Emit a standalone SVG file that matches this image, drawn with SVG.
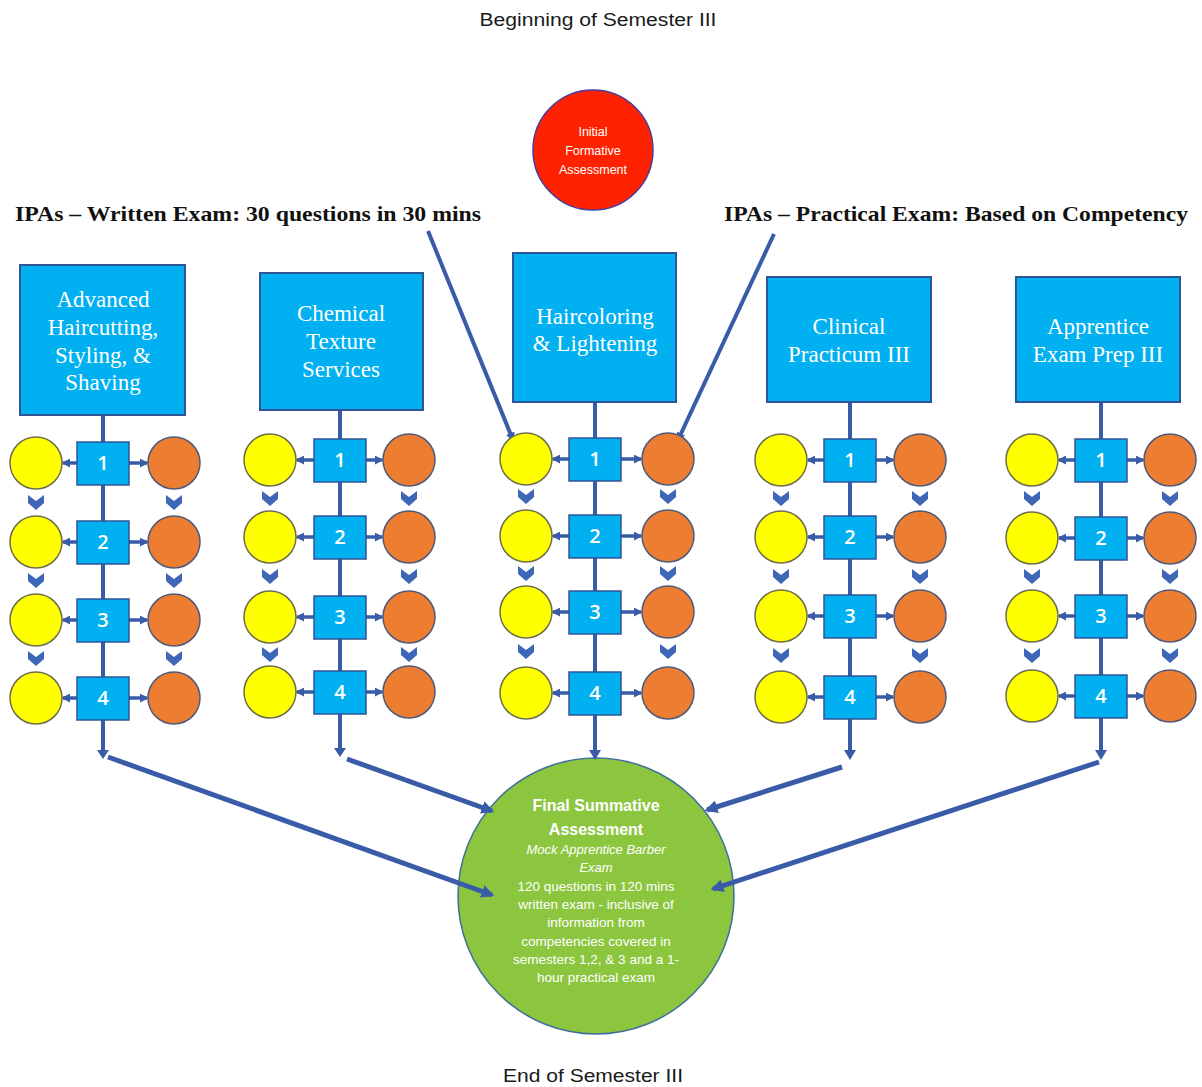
<svg xmlns="http://www.w3.org/2000/svg" xmlns:xlink="http://www.w3.org/1999/xlink" width="1202" height="1087" viewBox="0 0 1202 1087">
  <style>
    .cal { font-family: "Liberation Sans", "Open Sans", sans-serif; }
    .title { font-size: 18px; fill: #1a1a1a; }
    .hdr { font-family: "Liberation Serif", "DejaVu Serif", serif; font-weight: bold; font-size: 22px; fill: #111; }
    .box { fill: #00B0F0; stroke: #2F5597; stroke-width: 2; }
    .boxlbl { font-family: "Liberation Serif", "DejaVu Serif", serif; font-size: 23px; fill: #fff; text-anchor: middle; }
    .sq { fill: #00B0F0; stroke: #2F5597; stroke-width: 1.5; }
    .num { font-family: "Open Sans", "Liberation Sans", sans-serif; font-size: 20px; font-weight: 600; fill: #fff; text-anchor: middle; }
    .y { fill: #FFFF00; stroke: #6E6E4E; stroke-width: 1.5; }
    .o { fill: #ED7D31; stroke: #4F5A7A; stroke-width: 1.5; }
    .chev { fill: #3E67B8; }
    .stem { stroke: #3A5CA8; stroke-width: 4; fill: none; }
    .side { stroke: #3A5CA8; stroke-width: 3.5; fill: none; marker-end: url(#ah); }
    .diag { stroke: #3A5CA8; stroke-width: 5; fill: none; marker-end: url(#ahb); }
    .ptr { stroke: #3A5CA8; stroke-width: 4; fill: none; marker-end: url(#ah); }
    .wt { fill: #fff; text-anchor: middle; }
  </style>
  <defs>
    <marker id="ah" viewBox="0 0 10 10" refX="8" refY="5" markerUnits="userSpaceOnUse" markerWidth="9" markerHeight="9" orient="auto">
      <path d="M0,0 L10,5 L0,10 Z" fill="#3A5CA8"/>
    </marker>
    <marker id="ahb" viewBox="0 0 10 10" refX="8" refY="5" markerUnits="userSpaceOnUse" markerWidth="13" markerHeight="13" orient="auto">
      <path d="M0,0 L10,5 L0,10 Z" fill="#3A5CA8"/>
    </marker>
    <path id="chev" d="M-8,-8 L0,-2 L8,-8 L8,0 L0,7 L-8,0 Z"/>
  </defs>

  <rect width="1202" height="1087" fill="#ffffff"/>

  <!-- headings -->
  <text class="cal title" x="598" y="26" text-anchor="middle" textLength="237" lengthAdjust="spacingAndGlyphs">Beginning of Semester III</text>
  <text class="hdr" x="15" y="221" textLength="466" lengthAdjust="spacingAndGlyphs">IPAs – Written Exam: 30 questions in 30 mins</text>
  <text class="hdr" x="724" y="221" textLength="464" lengthAdjust="spacingAndGlyphs">IPAs – Practical Exam: Based on Competency</text>
  <text class="cal title" x="593" y="1082" text-anchor="middle" textLength="180" lengthAdjust="spacingAndGlyphs">End of Semester III</text>

  <!-- final summative assessment (drawn first so incoming arrows sit on top) -->
  <g id="final">
    <ellipse cx="596" cy="896" rx="138" ry="138" fill="#8CC63F" stroke="#3F6F9A" stroke-width="1.5"/>
    <text class="cal wt" font-size="16" font-weight="bold"><tspan x="596" y="811">Final Summative</tspan><tspan x="596" y="835">Assessment</tspan></text>
    <text class="cal wt" font-size="13" font-style="italic"><tspan x="596" y="854">Mock Apprentice Barber</tspan><tspan x="596" y="872">Exam</tspan></text>
    <text class="cal wt" font-size="13.5"><tspan x="596" y="891">120 questions in 120 mins</tspan><tspan x="596" y="909">written exam - inclusive of</tspan><tspan x="596" y="927">information from</tspan><tspan x="596" y="946">competencies covered in</tspan><tspan x="596" y="964">semesters 1,2, &amp; 3 and a 1-</tspan><tspan x="596" y="982">hour practical exam</tspan></text>
  </g>

  <!-- connectors -->
  <g id="connectors">
    <!-- stems from course boxes down the columns -->
    <line class="stem" x1="103" y1="415" x2="103" y2="752"/>
    <line class="stem" x1="340" y1="410" x2="340" y2="750"/>
    <line class="stem" x1="595" y1="402" x2="595" y2="752"/>
    <line class="stem" x1="850" y1="402" x2="850" y2="752"/>
    <line class="stem" x1="1101" y1="402" x2="1101" y2="752"/>
    <path d="M97,750 L103,759 L109,750 Z" fill="#3A5CA8"/>
    <path d="M334,748 L340,757 L346,748 Z" fill="#3A5CA8"/>
    <path d="M589,750 L595,760 L601,750 Z" fill="#3A5CA8"/>
    <path d="M844,750 L850,760 L856,750 Z" fill="#3A5CA8"/>
    <path d="M1095,750 L1101,760 L1107,750 Z" fill="#3A5CA8"/>

    <!-- column outputs to the final assessment -->
    <line class="diag" x1="108" y1="757" x2="492" y2="895"/>
    <line class="diag" x1="347" y1="759" x2="492" y2="811"/>
    <line class="diag" x1="842" y1="767" x2="707" y2="810"/>
    <line class="diag" x1="1099" y1="762" x2="713" y2="889"/>

    <!-- IPA pointers -->
    <line class="ptr" x1="428" y1="231" x2="513" y2="440"/>
    <line class="ptr" x1="774" y1="234" x2="678" y2="440"/>

    <!-- square-to-circle arrows, column 1 -->
    <line class="side" x1="77" y1="463" x2="63" y2="463"/><line class="side" x1="129" y1="463" x2="147" y2="463"/>
    <line class="side" x1="77" y1="542" x2="63" y2="542"/><line class="side" x1="129" y1="542" x2="147" y2="542"/>
    <line class="side" x1="77" y1="620" x2="63" y2="620"/><line class="side" x1="129" y1="620" x2="147" y2="620"/>
    <line class="side" x1="77" y1="698" x2="63" y2="698"/><line class="side" x1="129" y1="698" x2="147" y2="698"/>
    <!-- column 2 -->
    <line class="side" x1="314" y1="460" x2="297" y2="460"/><line class="side" x1="366" y1="460" x2="382" y2="460"/>
    <line class="side" x1="314" y1="537" x2="297" y2="537"/><line class="side" x1="366" y1="537" x2="382" y2="537"/>
    <line class="side" x1="314" y1="617" x2="297" y2="617"/><line class="side" x1="366" y1="617" x2="382" y2="617"/>
    <line class="side" x1="314" y1="692" x2="297" y2="692"/><line class="side" x1="366" y1="692" x2="382" y2="692"/>
    <!-- column 3 -->
    <line class="side" x1="569" y1="459" x2="553" y2="459"/><line class="side" x1="621" y1="459" x2="641" y2="459"/>
    <line class="side" x1="569" y1="536" x2="553" y2="536"/><line class="side" x1="621" y1="536" x2="641" y2="536"/>
    <line class="side" x1="569" y1="612" x2="553" y2="612"/><line class="side" x1="621" y1="612" x2="641" y2="612"/>
    <line class="side" x1="569" y1="693" x2="553" y2="693"/><line class="side" x1="621" y1="693" x2="641" y2="693"/>
    <!-- column 4 -->
    <line class="side" x1="824" y1="460" x2="808" y2="460"/><line class="side" x1="876" y1="460" x2="893" y2="460"/>
    <line class="side" x1="824" y1="537" x2="808" y2="537"/><line class="side" x1="876" y1="537" x2="893" y2="537"/>
    <line class="side" x1="824" y1="616" x2="808" y2="616"/><line class="side" x1="876" y1="616" x2="893" y2="616"/>
    <line class="side" x1="824" y1="697" x2="808" y2="697"/><line class="side" x1="876" y1="697" x2="893" y2="697"/>
    <!-- column 5 -->
    <line class="side" x1="1075" y1="460" x2="1059" y2="460"/><line class="side" x1="1127" y1="460" x2="1143" y2="460"/>
    <line class="side" x1="1075" y1="538" x2="1059" y2="538"/><line class="side" x1="1127" y1="538" x2="1143" y2="538"/>
    <line class="side" x1="1075" y1="616" x2="1059" y2="616"/><line class="side" x1="1127" y1="616" x2="1143" y2="616"/>
    <line class="side" x1="1075" y1="696" x2="1059" y2="696"/><line class="side" x1="1127" y1="696" x2="1143" y2="696"/>

    <!-- chevrons between successive IPAs -->
    <g class="chev">
      <use xlink:href="#chev" x="36" y="503"/><use xlink:href="#chev" x="36" y="581"/><use xlink:href="#chev" x="36" y="659"/>
      <use xlink:href="#chev" x="174" y="503"/><use xlink:href="#chev" x="174" y="581"/><use xlink:href="#chev" x="174" y="659"/>
      <use xlink:href="#chev" x="270" y="499"/><use xlink:href="#chev" x="270" y="577"/><use xlink:href="#chev" x="270" y="655"/>
      <use xlink:href="#chev" x="409" y="499"/><use xlink:href="#chev" x="409" y="577"/><use xlink:href="#chev" x="409" y="655"/>
      <use xlink:href="#chev" x="526" y="497"/><use xlink:href="#chev" x="526" y="574"/><use xlink:href="#chev" x="526" y="652"/>
      <use xlink:href="#chev" x="668" y="497"/><use xlink:href="#chev" x="668" y="574"/><use xlink:href="#chev" x="668" y="652"/>
      <use xlink:href="#chev" x="781" y="499"/><use xlink:href="#chev" x="781" y="577"/><use xlink:href="#chev" x="781" y="656"/>
      <use xlink:href="#chev" x="920" y="499"/><use xlink:href="#chev" x="920" y="577"/><use xlink:href="#chev" x="920" y="656"/>
      <use xlink:href="#chev" x="1032" y="499"/><use xlink:href="#chev" x="1032" y="577"/><use xlink:href="#chev" x="1032" y="656"/>
      <use xlink:href="#chev" x="1170" y="499"/><use xlink:href="#chev" x="1170" y="577"/><use xlink:href="#chev" x="1170" y="656"/>
    </g>
  </g>

  <!-- initial formative assessment -->
  <g id="initial">
    <circle cx="593" cy="150" r="60" fill="#FF2200" stroke="#4A3A9A" stroke-width="1.5"/>
    <text class="cal wt" font-size="12.5"><tspan x="593" y="136">Initial</tspan><tspan x="593" y="155">Formative</tspan><tspan x="593" y="174">Assessment</tspan></text>
  </g>

  <!-- course boxes -->
  <g id="course1">
    <rect class="box" x="20" y="265" width="165" height="150"/>
    <text class="boxlbl"><tspan x="103" y="307">Advanced</tspan><tspan x="103" y="335">Haircutting,</tspan><tspan x="103" y="363">Styling, &amp;</tspan><tspan x="103" y="390">Shaving</tspan></text>
  </g>
  <g id="course2">
    <rect class="box" x="260" y="273" width="163" height="137"/>
    <text class="boxlbl"><tspan x="341" y="321">Chemical</tspan><tspan x="341" y="349">Texture</tspan><tspan x="341" y="377">Services</tspan></text>
  </g>
  <g id="course3">
    <rect class="box" x="513" y="253" width="163" height="149"/>
    <text class="boxlbl"><tspan x="595" y="324">Haircoloring</tspan><tspan x="595" y="351">&amp; Lightening</tspan></text>
  </g>
  <g id="course4">
    <rect class="box" x="767" y="277" width="164" height="125"/>
    <text class="boxlbl"><tspan x="849" y="334">Clinical</tspan><tspan x="849" y="362">Practicum III</tspan></text>
  </g>
  <g id="course5">
    <rect class="box" x="1016" y="277" width="164" height="125"/>
    <text class="boxlbl"><tspan x="1098" y="334">Apprentice</tspan><tspan x="1098" y="362">Exam Prep III</tspan></text>
  </g>

  <!-- column 1 units -->
  <g id="c1u1"><rect class="sq" x="77" y="442" width="52" height="43"/><text class="num" x="103" y="470">1</text></g>
  <g id="c1u2"><rect class="sq" x="77" y="521" width="52" height="43"/><text class="num" x="103" y="549">2</text></g>
  <g id="c1u3"><rect class="sq" x="77" y="599" width="52" height="43"/><text class="num" x="103" y="627">3</text></g>
  <g id="c1u4"><rect class="sq" x="77" y="677" width="52" height="43"/><text class="num" x="103" y="705">4</text></g>
  <g id="c1w1"><circle class="y" cx="36" cy="463" r="26"/></g>
  <g id="c1w2"><circle class="y" cx="36" cy="542" r="26"/></g>
  <g id="c1w3"><circle class="y" cx="36" cy="620" r="26"/></g>
  <g id="c1w4"><circle class="y" cx="36" cy="698" r="26"/></g>
  <g id="c1p1"><circle class="o" cx="174" cy="463" r="26"/></g>
  <g id="c1p2"><circle class="o" cx="174" cy="542" r="26"/></g>
  <g id="c1p3"><circle class="o" cx="174" cy="620" r="26"/></g>
  <g id="c1p4"><circle class="o" cx="174" cy="698" r="26"/></g>

  <!-- column 2 units -->
  <g id="c2u1"><rect class="sq" x="314" y="439" width="52" height="43"/><text class="num" x="340" y="467">1</text></g>
  <g id="c2u2"><rect class="sq" x="314" y="516" width="52" height="43"/><text class="num" x="340" y="544">2</text></g>
  <g id="c2u3"><rect class="sq" x="314" y="596" width="52" height="43"/><text class="num" x="340" y="624">3</text></g>
  <g id="c2u4"><rect class="sq" x="314" y="671" width="52" height="43"/><text class="num" x="340" y="699">4</text></g>
  <g id="c2w1"><circle class="y" cx="270" cy="460" r="26"/></g>
  <g id="c2w2"><circle class="y" cx="270" cy="537" r="26"/></g>
  <g id="c2w3"><circle class="y" cx="270" cy="617" r="26"/></g>
  <g id="c2w4"><circle class="y" cx="270" cy="692" r="26"/></g>
  <g id="c2p1"><circle class="o" cx="409" cy="460" r="26"/></g>
  <g id="c2p2"><circle class="o" cx="409" cy="537" r="26"/></g>
  <g id="c2p3"><circle class="o" cx="409" cy="617" r="26"/></g>
  <g id="c2p4"><circle class="o" cx="409" cy="692" r="26"/></g>

  <!-- column 3 units -->
  <g id="c3u1"><rect class="sq" x="569" y="438" width="52" height="43"/><text class="num" x="595" y="466">1</text></g>
  <g id="c3u2"><rect class="sq" x="569" y="515" width="52" height="43"/><text class="num" x="595" y="543">2</text></g>
  <g id="c3u3"><rect class="sq" x="569" y="591" width="52" height="43"/><text class="num" x="595" y="619">3</text></g>
  <g id="c3u4"><rect class="sq" x="569" y="672" width="52" height="43"/><text class="num" x="595" y="700">4</text></g>
  <g id="c3w1"><circle class="y" cx="526" cy="459" r="26"/></g>
  <g id="c3w2"><circle class="y" cx="526" cy="536" r="26"/></g>
  <g id="c3w3"><circle class="y" cx="526" cy="612" r="26"/></g>
  <g id="c3w4"><circle class="y" cx="526" cy="693" r="26"/></g>
  <g id="c3p1"><circle class="o" cx="668" cy="459" r="26"/></g>
  <g id="c3p2"><circle class="o" cx="668" cy="536" r="26"/></g>
  <g id="c3p3"><circle class="o" cx="668" cy="612" r="26"/></g>
  <g id="c3p4"><circle class="o" cx="668" cy="693" r="26"/></g>

  <!-- column 4 units -->
  <g id="c4u1"><rect class="sq" x="824" y="439" width="52" height="43"/><text class="num" x="850" y="467">1</text></g>
  <g id="c4u2"><rect class="sq" x="824" y="516" width="52" height="43"/><text class="num" x="850" y="544">2</text></g>
  <g id="c4u3"><rect class="sq" x="824" y="595" width="52" height="43"/><text class="num" x="850" y="623">3</text></g>
  <g id="c4u4"><rect class="sq" x="824" y="676" width="52" height="43"/><text class="num" x="850" y="704">4</text></g>
  <g id="c4w1"><circle class="y" cx="781" cy="460" r="26"/></g>
  <g id="c4w2"><circle class="y" cx="781" cy="537" r="26"/></g>
  <g id="c4w3"><circle class="y" cx="781" cy="616" r="26"/></g>
  <g id="c4w4"><circle class="y" cx="781" cy="697" r="26"/></g>
  <g id="c4p1"><circle class="o" cx="920" cy="460" r="26"/></g>
  <g id="c4p2"><circle class="o" cx="920" cy="537" r="26"/></g>
  <g id="c4p3"><circle class="o" cx="920" cy="616" r="26"/></g>
  <g id="c4p4"><circle class="o" cx="920" cy="697" r="26"/></g>

  <!-- column 5 units -->
  <g id="c5u1"><rect class="sq" x="1075" y="439" width="52" height="43"/><text class="num" x="1101" y="467">1</text></g>
  <g id="c5u2"><rect class="sq" x="1075" y="517" width="52" height="43"/><text class="num" x="1101" y="545">2</text></g>
  <g id="c5u3"><rect class="sq" x="1075" y="595" width="52" height="43"/><text class="num" x="1101" y="623">3</text></g>
  <g id="c5u4"><rect class="sq" x="1075" y="675" width="52" height="43"/><text class="num" x="1101" y="703">4</text></g>
  <g id="c5w1"><circle class="y" cx="1032" cy="460" r="26"/></g>
  <g id="c5w2"><circle class="y" cx="1032" cy="538" r="26"/></g>
  <g id="c5w3"><circle class="y" cx="1032" cy="616" r="26"/></g>
  <g id="c5w4"><circle class="y" cx="1032" cy="696" r="26"/></g>
  <g id="c5p1"><circle class="o" cx="1170" cy="460" r="26"/></g>
  <g id="c5p2"><circle class="o" cx="1170" cy="538" r="26"/></g>
  <g id="c5p3"><circle class="o" cx="1170" cy="616" r="26"/></g>
  <g id="c5p4"><circle class="o" cx="1170" cy="696" r="26"/></g>
</svg>
